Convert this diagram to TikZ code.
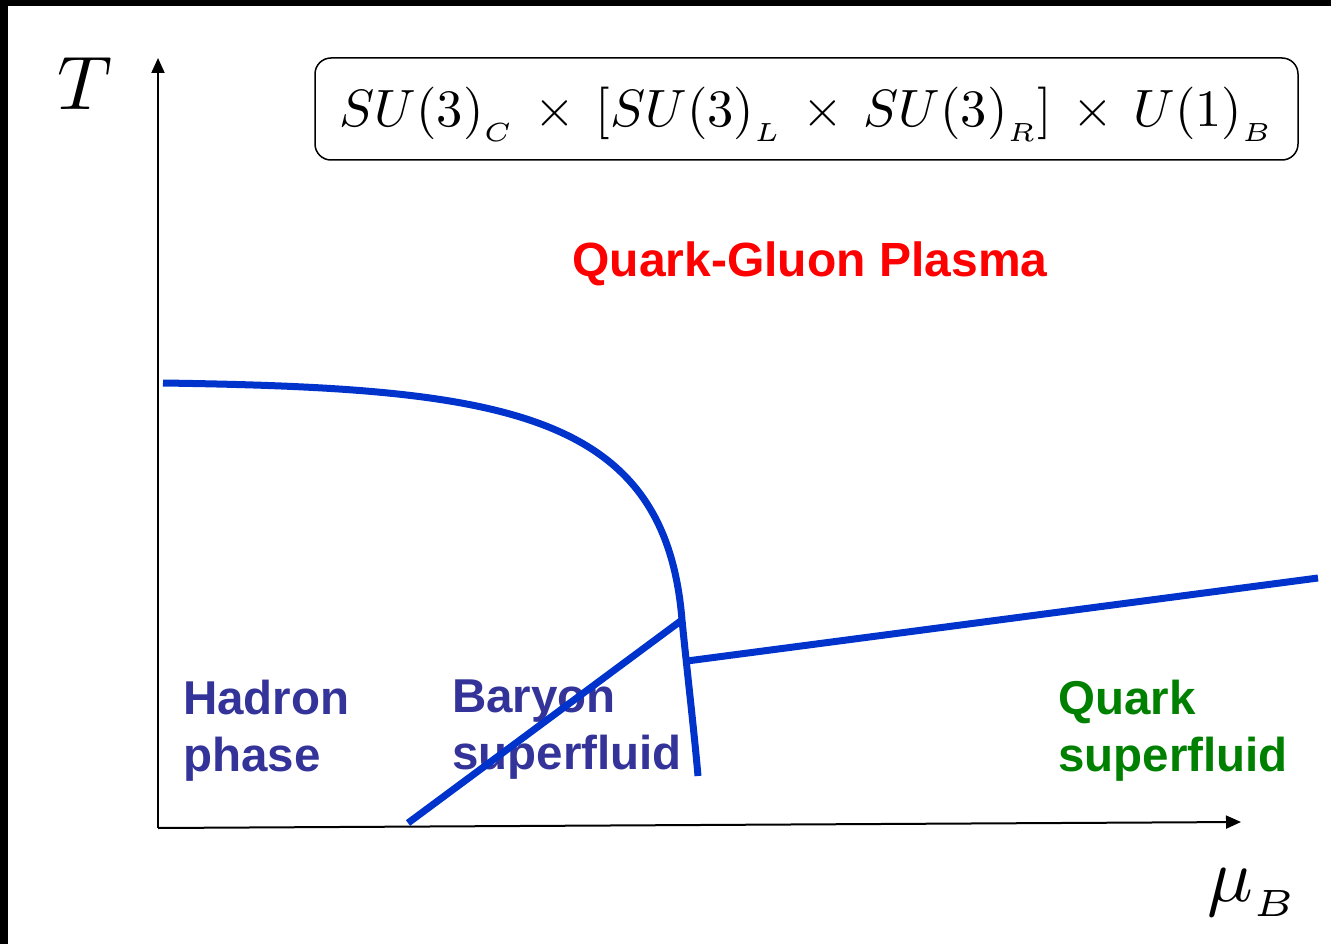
\documentclass[tikz,border=0pt]{standalone}
\usepackage{fontspec}
\setsansfont{Liberation Sans}
\usetikzlibrary{arrows.meta}
\definecolor{lineblue}{HTML}{0033CC}
\definecolor{textblue}{HTML}{333399}
\definecolor{qgpred}{HTML}{FF0000}
\definecolor{qgreen}{HTML}{008000}
\newcommand\lowsub[1]{_{\raisebox{-1.3pt}{$\scriptscriptstyle #1$}}}
\newcommand\xx{\mkern3mu\times\mkern3mu}
\tikzset{
  axis/.style={line width=2pt,-{Triangle[length=15pt,width=13pt]}},
  boundary/.style={lineblue,line width=7pt},
  phaselabel/.style={font=\sffamily\bfseries\fontsize{47.5}{57}\selectfont,align=left,anchor=north west,inner sep=0pt},
  symbox/.style={draw,line width=1.5pt,rounded corners=16pt,minimum width=983pt,minimum height=102pt,inner sep=0pt,text height=50pt,text depth=14pt},
}
\begin{document}
\begin{tikzpicture}[x=1pt,y=-1pt]
\useasboundingbox (0,0) rectangle (1331,944);
\fill[black] (0,0) rectangle (1331,6);
\fill[black] (0,0) rectangle (8,944);
% axes
\coordinate (O) at (158,828);
\coordinate (Ytip) at (158,58);
\coordinate (Xtip) at (1241,822);
\draw[axis] (O) -- (Ytip);
\draw[axis] (O) -- (Xtip);
\node[anchor=base west,inner sep=0pt] (Tlab) at (57,110) {\scalebox{7.6}{$T$}};
\node[anchor=base west,inner sep=0pt] (mulab) at (1207,901) {\scalebox{7.6}{$\mu_{\raisebox{-0.6pt}{$\scriptscriptstyle B$}}$}};
% symmetry box
\node[symbox] (sym) at (806.5,109) {\scalebox{5.25}{$SU(3)\lowsub{C}\xx[SU(3)\lowsub{L}\xx SU(3)\lowsub{R}]\xx U(1)\lowsub{B}$}};
% labels
\node[font=\sffamily\bfseries\fontsize{48}{57}\selectfont,text=qgpred] (qgp) at (810,264) {Quark-Gluon Plasma};
\node[phaselabel,text=textblue] (hadron) at (183,680) {Hadron\\phase};
\node[phaselabel,text=textblue] (baryon) at (452,680) {Baryon\\superfluid};
\node[phaselabel,text=qgreen] (quark) at (1058,680) {Quark\\superfluid};
% phase boundaries
\coordinate (Tc) at (163,383);
\coordinate (J1) at (682,620);
\coordinate (J2) at (687,661);
\coordinate (Bend) at (698,776);
\coordinate (B0) at (408,823);
\coordinate (Q1) at (1318,578);
\draw[boundary] (Tc) .. controls (500,388) and (665,410) .. (J1)
                     .. controls (688,680) and (694,730) .. (Bend);
\draw[boundary] (B0) -- (J1);
\draw[boundary] (J2) -- (Q1);
\end{tikzpicture}
\end{document}
